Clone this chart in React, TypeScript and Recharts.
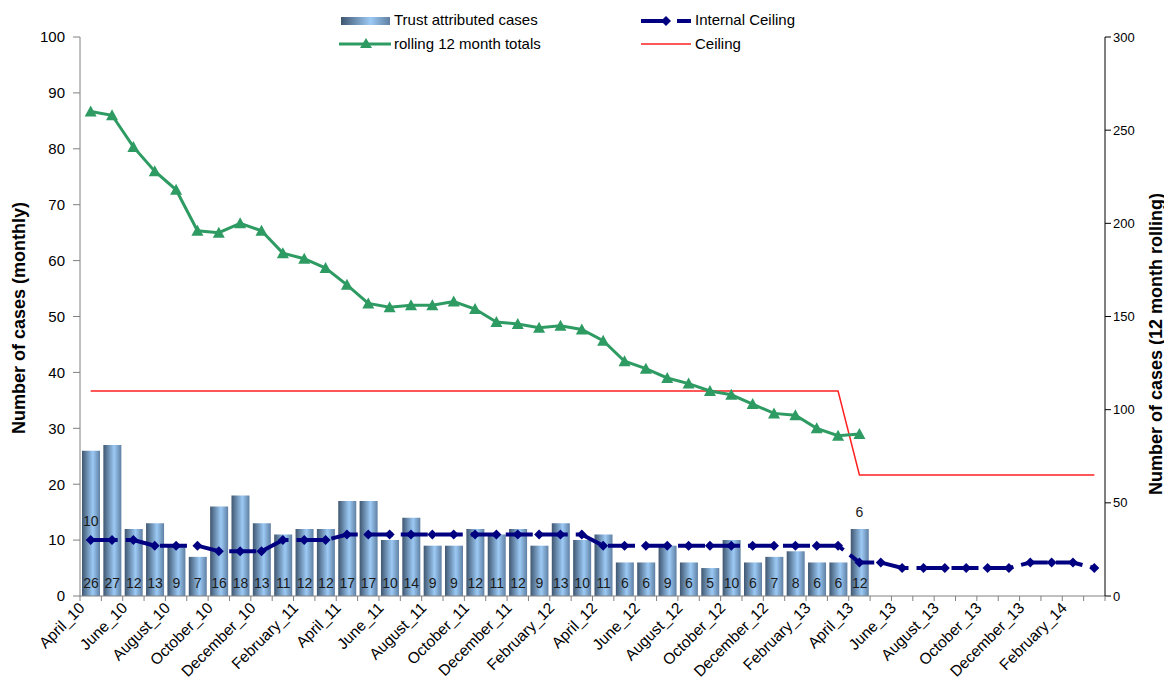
import React from 'react';
import { ComposedChart, Bar, Line, XAxis, YAxis, LabelList } from 'recharts';

const FONT = "'Liberation Sans', Arial, sans-serif";

const months = [
  'April_10', 'May_10', 'June_10', 'July_10', 'August_10', 'September_10', 'October_10', 'November_10',
  'December_10', 'January_11', 'February_11', 'March_11', 'April_11', 'May_11', 'June_11', 'July_11',
  'August_11', 'September_11', 'October_11', 'November_11', 'December_11', 'January_12', 'February_12', 'March_12',
  'April_12', 'May_12', 'June_12', 'July_12', 'August_12', 'September_12', 'October_12', 'November_12',
  'December_12', 'January_13', 'February_13', 'March_13', 'April_13', 'May_13', 'June_13', 'July_13',
  'August_13', 'September_13', 'October_13', 'November_13', 'December_13', 'January_14', 'February_14', 'March_14',
];

// monthly trust attributed cases, April_10 .. April_13
const trustCases = [
  26, 27, 12, 13, 9, 7, 16, 18, 13, 11, 12, 12, 17, 17, 10, 14, 9, 9, 12, 11, 12, 9, 13, 10, 11,
  6, 6, 9, 6, 5, 10, 6, 7, 8, 6, 6, 12,
];

// rolling 12 month totals (right axis)
const rolling12 = [
  260, 258, 241, 228, 218, 196, 195, 200, 196, 184, 181, 176, 167, 157, 155, 156, 156, 158, 154, 147,
  146, 144, 145, 143, 137, 126, 122, 117, 114, 110, 108, 103, 98, 97, 90, 86, 87,
];

// monthly internal ceiling (left axis)
const internalCeiling = [
  10, 10, 10, 9, 9, 9, 8, 8, 8, 10, 10, 10, 11, 11, 11, 11, 11, 11, 11, 11, 11, 11, 11, 11,
  9, 9, 9, 9, 9, 9, 9, 9, 9, 9, 9, 9, 6, 6, 5, 5, 5, 5, 5, 5, 6, 6, 6, 5,
];

// annual ceiling (right axis)
const ceiling = [
  110, 110, 110, 110, 110, 110, 110, 110, 110, 110, 110, 110, 110, 110, 110, 110, 110, 110, 110, 110, 110, 110, 110, 110,
  110, 110, 110, 110, 110, 110, 110, 110, 110, 110, 110, 110, 65, 65, 65, 65, 65, 65, 65, 65, 65, 65, 65, 65,
];

// internal ceiling points that carry a value label
const labelledCeilingPoints = [0, 36];

const leftTicks = [0, 10, 20, 30, 40, 50, 60, 70, 80, 90, 100];
const rightTicks = [0, 50, 100, 150, 200, 250, 300];

const data = months.map((month, i) => ({
  month,
  cases: i < trustCases.length ? trustCases[i] : null,
  rolling: i < rolling12.length ? rolling12[i] : null,
  internal: internalCeiling[i],
  ceiling: ceiling[i],
}));

const W = 1164;
const H = 684;
const MARGIN = { top: 37, right: 19, bottom: 18, left: 30 };
const LEFT_AXIS_W = 50;
const RIGHT_AXIS_W = 40;
const PLOT_W = W - MARGIN.left - MARGIN.right - LEFT_AXIS_W - RIGHT_AXIS_W;
const BAND = PLOT_W / months.length;

const GREEN = '#2e9b63';
const NAVY = '#000080';
const RED = '#ff2020';

const MonthTick = (props: any) => {
  const { x, y, payload, index } = props;
  const i = payload?.index ?? index;
  const half = BAND / 2;
  const ax = x - 5;
  const ay = y + 13;
  return (
    <g>
      <line x1={x - half} y1={y} x2={x - half} y2={y + 5} stroke="#808080" />
      {i === months.length - 1 && <line x1={x + half} y1={y} x2={x + half} y2={y + 5} stroke="#808080" />}
      {i % 2 === 0 && (
        <text
          x={ax}
          y={ay}
          transform={`rotate(-45, ${ax}, ${ay})`}
          textAnchor="end"
          fontSize={15.5}
          fontFamily={FONT}
          fill="#000"
        >
          {payload.value}
        </text>
      )}
    </g>
  );
};

const Triangle = (props: any) => {
  const { cx, cy, index } = props;
  if (cx == null || cy == null) return <g key={`t${index}`} />;
  return <path key={`t${index}`} d={`M${cx},${cy - 6} L${cx + 6},${cy + 5} L${cx - 6},${cy + 5} Z`} fill={GREEN} />;
};

const Diamond = (props: any) => {
  const { cx, cy, index } = props;
  if (cx == null || cy == null) return <g key={`d${index}`} />;
  return <path key={`d${index}`} d={`M${cx},${cy - 5} L${cx + 5},${cy} L${cx},${cy + 5} L${cx - 5},${cy} Z`} fill={NAVY} />;
};

const CeilingLabel = (props: any) => {
  const { x, y, value, index } = props;
  if (!labelledCeilingPoints.includes(index)) return null;
  // the April_13 label sits above the bar rather than the marker
  const lift = index === 0 ? 14 : 45;
  return (
    <text x={x} y={y - lift} textAnchor="middle" fontSize={14} fontFamily={FONT} fill="#1a1a1a">
      {value}
    </text>
  );
};

const LegendBox = () => (
  <div style={{ position: 'absolute', left: 0, top: 0, width: W, height: 60, fontFamily: FONT, fontSize: 15, color: '#000' }}>
    <svg width={W} height={60} style={{ position: 'absolute', left: 0, top: 0 }}>
      <defs>
        <linearGradient id="legendBarFill" x1="0" y1="0" x2="1" y2="0">
          <stop offset="0%" stopColor="#3f5670" />
          <stop offset="60%" stopColor="#9ccaf5" />
          <stop offset="100%" stopColor="#5f7fa2" />
        </linearGradient>
      </defs>
      <rect x={341} y={17} width={49} height={8} fill="url(#legendBarFill)" />
      <line x1={339} y1={44} x2={391} y2={44} stroke={GREEN} strokeWidth={3} />
      <path d="M366,38 L372,48 L360,48 Z" fill={GREEN} />
      <line x1={641} y1={21} x2={667} y2={21} stroke={NAVY} strokeWidth={4} />
      <path d="M666,16 L671,21 L666,26 L661,21 Z" fill={NAVY} />
      <line x1={677} y1={21} x2={691} y2={21} stroke={NAVY} strokeWidth={4} />
      <line x1={641} y1={44} x2={691} y2={44} stroke={RED} strokeWidth={1.5} />
    </svg>
    <span style={{ position: 'absolute', left: 394, top: 11 }}>Trust attributed cases</span>
    <span style={{ position: 'absolute', left: 394, top: 35 }}>rolling 12 month totals</span>
    <span style={{ position: 'absolute', left: 695, top: 11 }}>Internal Ceiling</span>
    <span style={{ position: 'absolute', left: 695, top: 35 }}>Ceiling</span>
  </div>
);

const titleStyle: React.CSSProperties = {
  position: 'absolute',
  fontFamily: FONT,
  fontSize: 18,
  fontWeight: 'bold',
  whiteSpace: 'nowrap',
  transform: 'translate(-50%, -50%) rotate(-90deg)',
};

export default function App() {
  return (
    <div style={{ position: 'absolute', left: 0, top: 0, width: W, height: H, background: '#fff' }}>
      <ComposedChart width={W} height={H} data={data} margin={MARGIN}>
        <defs>
          <linearGradient id="barFill" x1="0" y1="0" x2="1" y2="0">
            <stop offset="0%" stopColor="#3f5670" />
            <stop offset="60%" stopColor="#9ccaf5" />
            <stop offset="100%" stopColor="#5f7fa2" />
          </linearGradient>
        </defs>
        <XAxis
          dataKey="month"
          interval={0}
          height={70}
          tickLine={false}
          tickSize={0}
          tickMargin={0}
          axisLine={{ stroke: '#808080' }}
          tick={<MonthTick />}
        />
        <YAxis
          yAxisId="left"
          width={LEFT_AXIS_W}
          domain={[0, 100]}
          ticks={leftTicks}
          interval={0}
          tickSize={7}
          tickMargin={8}
          axisLine={{ stroke: '#808080' }}
          tickLine={{ stroke: '#808080' }}
          tick={{ fill: '#000', fontSize: 15, fontFamily: FONT }}
        />
        <YAxis
          yAxisId="right"
          orientation="right"
          width={RIGHT_AXIS_W}
          domain={[0, 300]}
          ticks={rightTicks}
          interval={0}
          axisLine={{ stroke: '#000' }}
          tickLine={{ stroke: '#000' }}
          tick={{ fill: '#000', fontSize: 13, fontFamily: FONT }}
        />
        <Bar yAxisId="left" dataKey="cases" fill="url(#barFill)" barSize={18} isAnimationActive={false}>
          <LabelList dataKey="cases" position="insideBottom" offset={8} fill="#1a1a1a" fontSize={14} fontFamily={FONT} />
        </Bar>
        <Line
          yAxisId="right"
          dataKey="ceiling"
          stroke={RED}
          strokeWidth={1.5}
          dot={false}
          activeDot={false}
          type="linear"
          isAnimationActive={false}
        />
        <Line
          yAxisId="right"
          dataKey="rolling"
          stroke={GREEN}
          strokeWidth={3}
          dot={Triangle}
          activeDot={false}
          type="linear"
          isAnimationActive={false}
        />
        <Line
          yAxisId="left"
          dataKey="internal"
          stroke={NAVY}
          strokeWidth={4}
          strokeDasharray="27 8"
          dot={Diamond}
          activeDot={false}
          type="linear"
          isAnimationActive={false}
        >
          <LabelList dataKey="internal" content={CeilingLabel} />
        </Line>
      </ComposedChart>
      <LegendBox />
      <div style={{ ...titleStyle, left: 19, top: 318 }}>Number of cases (monthly)</div>
      <div style={{ ...titleStyle, left: 1156, top: 344 }}>Number of cases (12 month rolling)</div>
    </div>
  );
}
